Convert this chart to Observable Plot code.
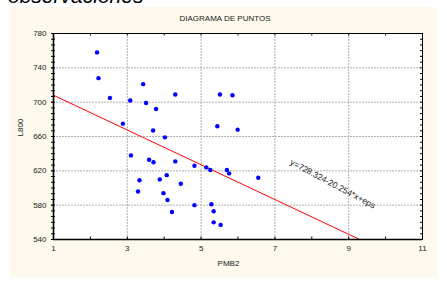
<!DOCTYPE html>
<html><head><meta charset="utf-8">
<script src="https://cdn.jsdelivr.net/npm/d3@7"></script>
<script src="https://cdn.jsdelivr.net/npm/@observablehq/plot@0.6"></script>
<style>
body{margin:0;background:#fff;width:447px;height:287px;overflow:hidden;position:relative;font-family:"Liberation Sans",Arial,sans-serif}
#top{position:absolute;left:8px;top:-15px;font-size:21px;font-style:italic;line-height:21px;color:#000;white-space:nowrap}
#chart{position:absolute;left:10px;top:7px}
</style></head><body>
<div id="top">observaciones</div>
<div id="chart"></div>
<script>
const pmb2 = [2.18,2.22,2.53,2.88,3.08,3.43,3.51,3.78,3.70,4.02,4.30,5.51,5.85,5.44,5.99,3.10,3.59,3.71,4.30,4.82,5.14,5.25,5.70,5.76,4.07,3.33,3.88,4.45,3.29,3.98,4.09,4.82,5.28,5.34,4.21,5.34,5.53,6.55];
const l800 = [758,728,705,675,702,721,699,692,667,659,709,709,708,672,668,638,633,630,631,626,624,621,621,617,615,609,610,605,596,594,586,580,581,573,572,560,557,612];
const xTicks = [1,3,5,7,9,11];
const xMinor = [1,2,3,4,5,6,7,8,9,10,11];
const yTicks = [540,580,620,660,700,740,780];
const intercept = 728.324, slope = -20.254;
const eqLabel = "y=728.324-20.254*x+eps";
const title = "DIAGRAMA DE PUNTOS";
const xLabel = "PMB2", yLabel = "L800";

const pts = pmb2.map((x,i)=>({x, y:l800[i]}));
const yMinor = d3.range(540, 780.01, 40/6);
const fit = [1, 11].map(x => ({x, y: intercept + slope*x}));

const W = 427, H = 270, mL = 43, mR = 15, mT = 26, mB = 38;
const iw = W - mL - mR, ih = H - mT - mB;

const chart = Plot.plot({
  width: W, height: H,
  marginLeft: mL, marginRight: mR, marginTop: mT, marginBottom: mB,
  style: {background: "#fdf9ec", fontFamily: "Liberation Sans, Arial, sans-serif", fontSize: "8px", color: "#222", overflow: "visible"},
  x: {domain: [1, 11]},
  y: {domain: [540, 780]},
  marks: [
    Plot.frame({fill: "white", stroke: null}),
    Plot.gridX([3,5,7,9], {stroke: "#b0b0b0", strokeOpacity: 1, strokeDasharray: "2,1"}),
    Plot.gridY([580,620,660,700,740], {stroke: "#b0b0b0", strokeOpacity: 1, strokeDasharray: "2,1"}),
    Plot.line(fit, {x: "x", y: "y", stroke: "#ff0000", strokeWidth: 1, clip: true}),
    Plot.dot(pts, {x: "x", y: "y", r: 2.2, fill: "#0000ff", stroke: null}),
    Plot.text([eqLabel], {x: () => 8.57, y: () => 604.7, rotate: 28, fontSize: 8.5, fill: "#222"}),
    Plot.ruleX(xMinor, {insetTop: ih - 2.5, stroke: "#000"}),
    Plot.ruleX(xMinor, {insetBottom: ih - 2.5, stroke: "#000"}),
    Plot.ruleY(yMinor, {insetRight: iw - 2, stroke: "#000"}),
    Plot.ruleY(yMinor, {insetLeft: iw - 2, stroke: "#000"}),
    Plot.frame({stroke: "#000", strokeWidth: 1}),
    Plot.ruleX([1], {stroke: "#000", strokeWidth: 1.6}),
    Plot.ruleY([540], {stroke: "#000", strokeWidth: 1.6}),
    Plot.axisX(xTicks, {anchor: "bottom", tickSize: 0, tickPadding: 6, label: null, fill: "#222"}),
    Plot.axisY(yTicks, {anchor: "left", tickSize: 2, tickPadding: 5, label: null, fill: "#222"}),
    Plot.ruleY(yMinor, {insetRight: iw, insetLeft: -2, stroke: "#000"}),
    Plot.text([title], {frameAnchor: "top", dy: -18, dx: -13, fontSize: 8, fill: "#222"}),
    Plot.text([xLabel], {frameAnchor: "bottom", dy: 26, dx: -9.5, fontSize: 8, fill: "#222"}),
    Plot.text([yLabel], {frameAnchor: "left", dx: -33, rotate: -90, fontSize: 8, fill: "#222"})
  ]
});
document.getElementById("chart").appendChild(chart);
</script>
</body></html>
